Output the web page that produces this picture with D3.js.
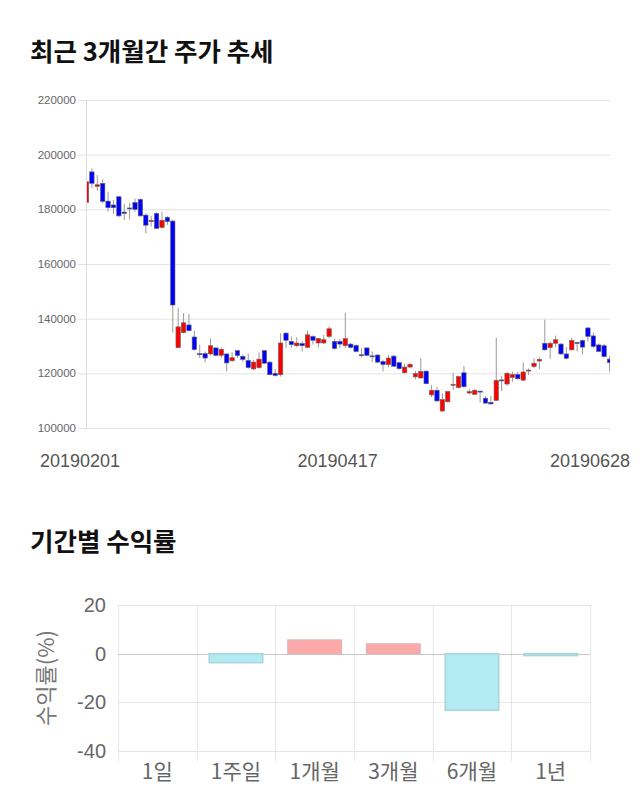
<!DOCTYPE html>
<html><head><meta charset="utf-8">
<script src="https://cdn.jsdelivr.net/npm/d3@7"></script>
<style>body{margin:0;background:#fff}svg{display:block}</style>
</head><body><svg id="c" width="640" height="810"></svg>
<script>
// ---- candle data (daily, 20190201 .. 20190628) ----
const openP  = [182500,193700,188400,189500,183000,181600,184600,179000,180500,182500,183600,177900,175500,178500,173400,177100,175700,129400,134900,137700,
133300,127200,127200,127100,129300,126600,127100,124600,128300,126200,124700,121600,122100,128300,124100,120000,119500,134700,131700,130100,
130900,129500,133500,131100,131100,133500,131700,131700,130100,130700,130200,126800,129300,126400,126700,124300,123200,126300,123900,120200,
122300,118700,118300,120800,112100,113800,106200,109600,115800,114800,120200,112800,112300,113500,110900,109400,110100,117600,116100,118500,
119600,117500,120900,122500,124500,131000,129400,131000,130700,127100,128600,131300,132000,136600,133700,130400,130100,125200];
const highP  = [196600,195000,192500,191000,186500,183400,184900,182000,182400,184000,184000,178500,177600,178900,179100,177600,176300,144000,142000,141700,
135600,130500,128000,132700,129600,129500,127200,127700,128500,126800,127200,125000,127700,128500,124400,121600,134600,135100,133500,133200,
131700,135600,133900,132900,134100,137200,132600,132600,142200,131100,130600,129300,129500,128000,127100,125000,126800,126800,124300,123500,
123900,120900,125500,121100,115700,115100,112700,113500,120200,119000,122700,114300,114300,113600,111700,111700,133000,119100,120600,120600,
120600,124000,121800,125500,125800,139600,131600,133800,131100,129600,133100,131500,132300,137000,134900,131000,130800,126200];
const lowP   = [182000,187700,186800,182200,179200,178300,177100,176100,176300,179100,177300,171200,173700,172800,173000,174300,134900,129400,134600,135300,
128300,125600,124100,126600,126200,125600,120700,124100,125600,124100,121700,121100,121700,123400,119300,118800,118800,129300,129300,129500,
128000,129300,130500,129500,130700,132900,128700,129300,129300,129000,127700,125900,126200,124100,123700,120700,122200,122300,121300,119900,
121800,117800,118100,116000,111300,109600,105900,109300,113900,114600,114700,112300,112100,109300,108900,108700,109900,113500,115400,117000,
117700,117100,119400,121900,121500,128300,125200,129500,126700,125100,128300,128000,126900,131700,129200,127700,125800,120600];
const closeP = [190100,189500,189000,182900,180600,180600,177600,178500,180300,180000,177600,174200,176000,173000,176000,175500,145000,137000,138500,135600,
128700,126800,125600,130100,126600,128800,123800,125700,126500,125100,122100,124100,125200,123700,119500,119200,131100,132100,130500,131100,
130100,134100,132100,132700,132300,136300,129100,130700,132700,129500,128000,126600,126600,126200,124100,123200,125600,122600,121700,122300,
123300,119900,120700,116200,113800,109900,110400,113300,116000,118800,115100,113300,113800,113300,109100,108800,117400,117400,120000,119600,
118000,120500,121200,123700,125100,128600,131000,132300,127100,125500,132000,131100,129600,133500,129800,128000,126100,123900];
const dateLabels = ["20190201","20190417","20190628"];
const dateLabelIdx = [0,49,97];
const priceTicks = [100000,120000,140000,160000,180000,200000,220000];

// ---- period returns ----
const periods = ["1일","1주일","1개월","3개월","6개월","1년"];
const returns = [0,-3.7,5.6,4.0,-23.3,-0.8];
const returnTicks = [20,0,-20,-40];

const svg = d3.select("#c");
svg.append("rect").attr("width",640).attr("height",810).attr("fill","#fff");
const KR = "'Noto Sans CJK KR','Noto Sans',sans-serif";
const NUM = "'Liberation Sans',Arial,sans-serif";

// titles
svg.append("text").attr("x",30).attr("y",61).text("최근 3개월간 주가 추세")
  .attr("font-family",KR).attr("font-weight","bold").attr("font-size",25.5).attr("fill","#111");
svg.append("text").attr("x",30).attr("y",551).text("기간별 수익률")
  .attr("font-family",KR).attr("font-weight","bold").attr("font-size",25.5).attr("fill","#111");

// ---- candlestick chart ----
const n = openP.length;
const x = d3.scaleLinear().domain([0,n-1]).range([86.5,609.5]);
const y = d3.scaleLinear().domain([100000,220000]).range([428,100]);
const xl = d3.scaleLinear().domain([0,n-1]).range([80,590]);

const g1 = svg.append("g");
g1.selectAll("line.grid").data(priceTicks).join("line")
  .attr("x1",78).attr("x2",610).attr("y1",d=>y(d)+0.5).attr("y2",d=>y(d)+0.5)
  .attr("stroke","#e3e3e3").attr("stroke-width",1);
g1.append("line").attr("x1",86.5).attr("x2",86.5).attr("y1",y(220000)).attr("y2",y(100000))
  .attr("stroke","#dcdcdc");
g1.selectAll("text.yt").data(priceTicks).join("text")
  .attr("x",76).attr("y",d=>y(d)).attr("dy","0.35em").attr("text-anchor","end")
  .attr("font-family",NUM).attr("font-size",11.5).attr("fill","#666").text(d=>d);
g1.selectAll("text.xt").data(dateLabels).join("text")
  .attr("x",(d,i)=>xl(dateLabelIdx[i])).attr("y",467).attr("text-anchor","middle")
  .attr("font-family",NUM).attr("font-size",18).attr("fill","#555").text(d=>d);

svg.append("clipPath").attr("id","pc").append("rect").attr("x",87).attr("y",90).attr("width",523).attr("height",345);
const cg = svg.append("g").attr("clip-path","url(#pc)");
const idx = d3.range(n);
cg.selectAll("line.wick").data(idx).join("line")
  .attr("x1",i=>x(i)).attr("x2",i=>x(i)).attr("y1",i=>y(highP[i])).attr("y2",i=>y(lowP[i]))
  .attr("stroke","#999").attr("stroke-width",1);
const bw = 4.4;
cg.selectAll("rect.body").data(idx).join("rect")
  .attr("x",i=>x(i)-bw/2).attr("width",bw)
  .attr("y",i=>y(Math.max(openP[i],closeP[i])))
  .attr("height",i=>Math.max(1,Math.abs(y(openP[i])-y(closeP[i]))))
  .attr("fill",i=>closeP[i]>=openP[i]?"#ff0000":"#0000ff")
  .attr("stroke","#666").attr("stroke-width",0.6);

// ---- returns bar chart ----
const cat = d3.scaleBand().domain(periods).range([118,590]);
const by = d3.scaleLinear().domain([-40,20]).range([751,605]);
const g2 = svg.append("g");
const bounds = periods.map(p=>cat(p)).concat([590]);
g2.selectAll("line.vg").data(bounds).join("line")
  .attr("x1",d=>Math.round(d)+0.5).attr("x2",d=>Math.round(d)+0.5).attr("y1",by(20)).attr("y2",by(-40)+10)
  .attr("stroke","#e6e6e6");
g2.selectAll("line.hg").data(returnTicks).join("line")
  .attr("x1",118).attr("x2",590).attr("y1",d=>Math.round(by(d))+0.5).attr("y2",d=>Math.round(by(d))+0.5)
  .attr("stroke",d=>d===0?"#c8c8c8":"#e6e6e6");
g2.selectAll("text.rt").data(returnTicks).join("text")
  .attr("x",106).attr("y",d=>by(d)).attr("dy","0.35em").attr("text-anchor","end")
  .attr("font-family",NUM).attr("font-size",20).attr("fill","#666").text(d=>d);
g2.selectAll("text.ct").data(periods).join("text")
  .attr("x",d=>cat(d)+cat.bandwidth()/2).attr("y",772).attr("dy","0.35em").attr("text-anchor","middle")
  .attr("font-family",KR).attr("font-size",21).attr("fill","#666").text(d=>d);
g2.append("text").attr("transform","translate(46,678) rotate(-90)").attr("text-anchor","middle")
  .attr("dy","0.35em").attr("font-family",KR).attr("font-size",22).attr("fill","#777").text("수익률(%)");
const bwid = cat.bandwidth()*0.68;
g2.selectAll("rect.bar").data(periods.map((p,i)=>({p,v:returns[i]})).filter(d=>d.v!==0)).join("rect")
  .attr("x",d=>cat(d.p)+(cat.bandwidth()-bwid)/2).attr("width",bwid)
  .attr("y",d=>by(Math.max(0,d.v))).attr("height",d=>Math.abs(by(d.v)-by(0)))
  .attr("fill",d=>d.v>0?"#ffa8a8":"#b2ebf2")
  .attr("stroke",d=>d.v>0?"#e2b4b4":"#a9d4da").attr("stroke-width",1.5);
</script></body></html>
